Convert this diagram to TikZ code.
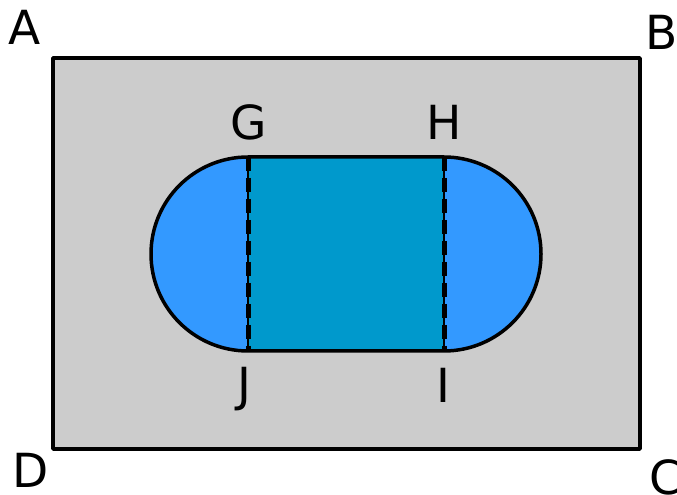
\documentclass[tikz,border=0pt]{standalone}
\usepackage{fontspec}
\setmainfont{DejaVu Sans}
\definecolor{paneGray}{HTML}{CCCCCC}
\definecolor{capBlue}{HTML}{3399FF}
\definecolor{midBlue}{HTML}{0099CC}

\begin{document}
\begin{tikzpicture}[x=1pt, y=1pt, line join=round,
  ptlabel/.style={font=\fontsize{47}{47}\selectfont, anchor=base, inner sep=0pt},
  cutline/.style={line width=5pt, dash pattern=on 14pt off 7pt}]
\useasboundingbox (0,0) rectangle (677,495);
% outer rectangle ABCD
\draw[line width=3.5pt, fill=paneGray] (53,437) rectangle (640,46);
\node[ptlabel] (A) at (25,450) {A};
\node[ptlabel] (B) at (662,445) {B};
\node[ptlabel] (C) at (666,1) {C};
\node[ptlabel] (D) at (31,7) {D};
% corners of the middle band
\coordinate (g) at (248,338);
\coordinate (h) at (444,338);
\coordinate (i) at (444,144);
\coordinate (j) at (248,144);
% two half discs and the band between them
\fill[capBlue] (g) arc[start angle=90, end angle=270, radius=97] -- cycle;
\fill[capBlue] (i) arc[start angle=-90, end angle=90, radius=97] -- cycle;
\fill[midBlue] (g) rectangle (i);
\draw[line width=3.5pt] (g) -- (h) arc[start angle=90, end angle=-90, radius=97]
  -- (j) arc[start angle=270, end angle=90, radius=97] -- cycle;
% dashed cuts G-J and H-I
\draw[line width=1.3pt] (g) -- (j);
\draw[cutline] (g) -- (j);
\draw[line width=1.3pt] (h) -- (i);
\draw[cutline] (h) -- (i);
\node[ptlabel] (G) at (249,355) {G};
\node[ptlabel] (H) at (444,355) {H};
\node[ptlabel] (J) at (244,93) {J};
\node[ptlabel] (I) at (443,92) {I};
\end{tikzpicture}
\end{document}
